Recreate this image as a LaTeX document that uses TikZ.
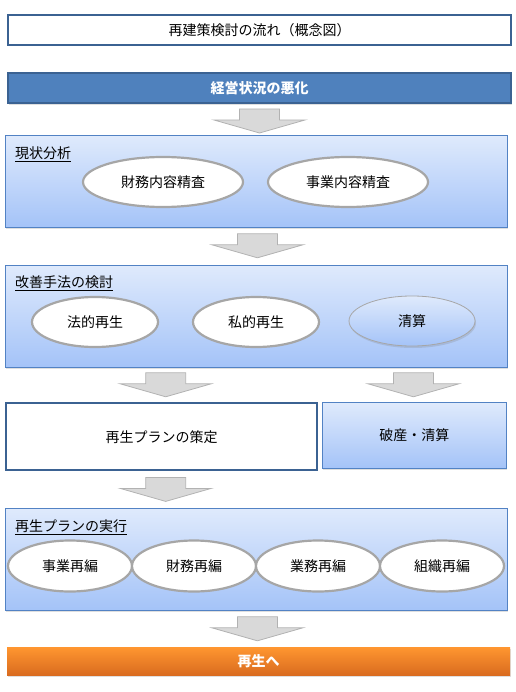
\documentclass[tikz,border=0pt]{standalone}
\usepackage{fontspec}
\setmainfont{Noto Sans CJK JP}
\usetikzlibrary{calc,positioning,shadows,shapes.geometric}

\definecolor{frameblue}{HTML}{3B6292}
\definecolor{barblue}{HTML}{4F81BD}
\definecolor{lineblue}{HTML}{5282C4}
\definecolor{gradtop}{HTML}{DFEAFC}
\definecolor{gradbot}{HTML}{A4C3F8}
\definecolor{ovalgray}{HTML}{A6A6A6}
\definecolor{orangetop}{HTML}{FF9630}
\definecolor{orangebot}{HTML}{D96B1F}

\tikzset{
  boxshadow/.style={drop shadow={shadow xshift=1pt, shadow yshift=-2pt, opacity=0.25}},
  whitebox/.style={draw=frameblue, line width=2.4pt, fill=white, anchor=north west, inner sep=0pt},
  stagebox/.style={draw=lineblue, line width=0.8pt, top color=gradtop, bottom color=gradbot,
    anchor=north west, inner sep=0pt, boxshadow},
  oval/.style={ellipse, draw=ovalgray, line width=2.2pt, fill=white, inner sep=0pt,
    minimum height=50pt},
  stagelabel/.style={anchor=west, inner sep=0pt},
  arrowbody/.style={draw=gray!60, line width=0.8pt, fill=gray!30},
  downarr/.pic={\draw[arrowbody] (-20,0) -- (20,0) -- (20,11) -- (45.5,11) -- (0,24)
    -- (-45.5,11) -- (-20,11) -- cycle;}
}

\begin{document}
\begin{tikzpicture}[x=1pt, y=-1pt, font=\fontsize{14}{16}\selectfont]
  \useasboundingbox (0,0) rectangle (515,692);

  % 見出し
  \node[whitebox, minimum width=503pt, minimum height=30pt] (title) at (7,14) {};
  \node at (title.center) {再建策検討の流れ（概念図）};

  % 経営状況の悪化
  \node[draw=frameblue, line width=2pt, fill=barblue, anchor=north west, inner sep=0pt,
    minimum width=503pt, minimum height=30pt, boxshadow] (bad) at (7,72) {};
  \node[white, font=\fontsize{14}{16}\selectfont\bfseries] at (bad.center) {経営状況の悪化};

  % 現状分析
  \node[stagebox, minimum width=502pt, minimum height=92pt] (analysis) at (5,135) {};
  \node[stagelabel] (lblanalysis) at ($(analysis.north west)+(10,19)$) {\underline{現状分析}};
  \node[oval, minimum width=160pt] (fin) at (163,182) {財務内容精査};
  \node[oval, minimum width=160pt] (biz) at (348,182) {事業内容精査};

  % 改善手法の検討
  \node[stagebox, minimum width=502pt, minimum height=102pt] (improve) at (5,265) {};
  \node[stagelabel] (lblimprove) at ($(improve.north west)+(10,18)$) {\underline{改善手法の検討}};
  \node[oval, minimum width=126pt] (legal) at (95,322) {法的再生};
  \node[oval, minimum width=126pt] (private) at (256,322) {私的再生};
  \node[ellipse, draw=ovalgray, line width=0.8pt, top color=gradtop, bottom color=gradbot,
    inner sep=0pt, minimum width=126pt, minimum height=50pt, boxshadow] (liquid) at (412,321) {清算};

  % 再生プランの策定 / 破産・清算
  \node[whitebox, minimum width=311pt, minimum height=67pt] (plan) at (5,402) {};
  \node at (plan.center) {再生プランの策定};
  \node[stagebox, minimum width=184pt, minimum height=66pt] (bankrupt) at (322,402) {};
  \node at (bankrupt.center) {破産・清算};

  % 再生プランの実行
  \node[stagebox, minimum width=502pt, minimum height=102pt] (exec) at (5,508) {};
  \node[stagelabel] (lblexec) at ($(exec.north west)+(10,19)$) {\underline{再生プランの実行}};
  \foreach \name/\txt [count=\k from 0] in {r1/事業再編, r2/財務再編, r3/業務再編, r4/組織再編} {
    \node[oval, minimum width=124pt, minimum height=51pt] (\name) at (70+\k*124,566) {\txt};
  }

  % 再生へ
  \node[top color=orangetop, bottom color=orangebot, anchor=north west, inner sep=0pt,
    minimum width=503pt, minimum height=28pt, boxshadow] (revival) at (7,647) {};
  \node[white, font=\fontsize{14}{16}\selectfont\bfseries] at (revival.center) {再生へ};

  % 矢印
  \coordinate (a1) at ($(bad.south)+(0,5)$);
  \coordinate (a2) at ($(analysis.south)+(1,6)$);
  \coordinate (a3) at ($(plan.north |- improve.south)+(4,5)$);
  \coordinate (a4) at ($(bankrupt.north |- improve.south)+(-1,5)$);
  \coordinate (a5) at ($(plan.south)+(4,6)$);
  \coordinate (a6) at ($(exec.south)+(1,6)$);
  \foreach \c in {a1,a2,a3,a4,a5,a6} {
    \pic at (\c) {downarr};
  }
\end{tikzpicture}
\end{document}
